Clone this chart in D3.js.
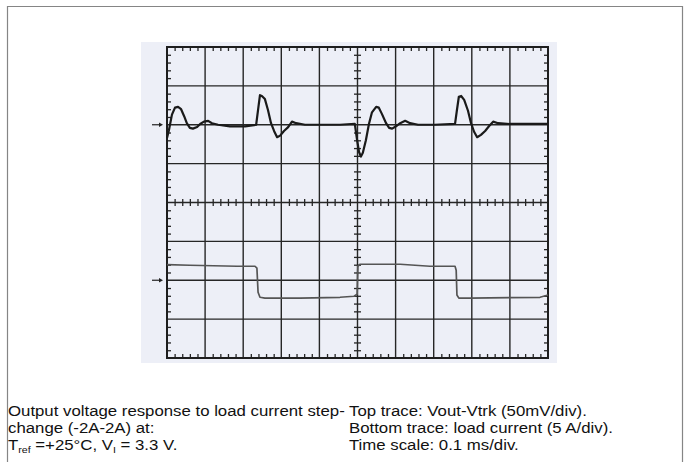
<!DOCTYPE html>
<html>
<head>
<meta charset="utf-8">
<style>
body { margin: 0; background: #fff; }
svg { display: block; }
.grid line { stroke: #262626; stroke-width: 1.4; }
.tk line { stroke: #262626; stroke-width: 1.3; }
.tk path { display: none; }
.cap { font-family: "Liberation Sans", Arial, sans-serif; font-size: 15px; fill: #111; }
</style>
<script src="https://d3js.org/d3.v7.min.js"></script>
</head>
<body>
<svg width="686" height="462"></svg>
<script>
// time in ms (0.1 ms/div, 10 div)
// top trace: Vout-Vtrk in mV relative to its marker (50 mV/div)
var topTime = [0, .005, .013, .021, .029, .037, .045, .052, .060, .068, .079, .087, .097, .108, .118, .134, .165, .205, .234,
  .239, .244, .249, .257, .265, .273, .281, .289, .297, .307, .318, .328, .339, .362, .402, .454, .493,
  .499, .504, .509, .514, .522, .530, .538, .549, .556, .564, .575, .583, .591, .601, .612, .625, .638, .659, .703, .756,
  .761, .766, .772, .780, .790, .798, .806, .814, .824, .835, .845, .856, .869, .900, .953, 1.0];
var topMv = [-17, -7, 13, 22, 23, 20, 11, 2, -4, -5, -3, 1, 4, 5, 2, 0, -2, -2, 0,
  19, 38, 37, 33, 19, 2, -8, -16, -14, -8, -3, 4, 2, 0, 0, 0, 1,
  -20, -35, -41, -36, -20, 1, 16, 23, 22, 14, 2, -4, -5, -2, 2, 5, 2, 0, 0, 1,
  19, 36, 37, 32, 18, 2, -9, -16, -13, -8, -2, 4, 2, 1, 1, 1];

// bottom trace: load current in A relative to its marker (5 A/div)
var botTime = [0, .06, .184, .231, .236, .239, .244, .257, .349, .454, .491, .499, .501, .507, .612, .69, .756, .759, .761, .766, .795, .979, 1.0];
var botAmp = [2.0, 1.93, 1.8, 1.8, 1.55, -1.54, -2.19, -2.3, -2.3, -2.19, -2.06, -1.8, 1.8, 2.06, 2.06, 1.8, 1.8, 1.3, -1.9, -2.3, -2.3, -2.19, -1.9];

var topOffset = 2;   // marker position in divisions
var botOffset = -2;
var mvPerDiv = 50, ampPerDiv = 5;

var captionLeft = ["Output voltage response to load current step-", "change (-2A-2A) at:"];
var captionRight = ["Top trace: Vout-Vtrk (50mV/div).", "Bottom trace: load current (5 A/div).", "Time scale: 0.1 ms/div."];

var svg = d3.select("svg");

// outer frame
svg.append("path")
  .attr("d", "M7.5,462 V6.5 H682.5 V462")
  .attr("fill", "none").attr("stroke", "#858585").attr("stroke-width", 1.2);

// scope background
svg.append("rect").attr("x", 141).attr("y", 42).attr("width", 416).attr("height", 321).attr("fill", "#edeff7");

var x = d3.scaleLinear().domain([0, 1]).range([167, 548]);
var y = d3.scaleLinear().domain([-4, 4]).range([358, 47]);

var majX = d3.range(0, 11).map(function(i) { return i / 10; });
var majY = d3.range(-4, 5);
var minX = d3.range(0, 51).map(function(i) { return i / 50; }).filter(function(d, i) { return i % 5 != 0; });
var minY = d3.range(0, 41).map(function(i) { return -4 + i / 5; }).filter(function(d, i) { return i % 5 != 0; });

var g = svg.append("g").attr("class", "grid");
g.selectAll(".v").data(majX.slice(1, -1)).enter().append("line")
  .attr("x1", function(d) { return x(d); }).attr("x2", function(d) { return x(d); })
  .attr("y1", y(-4)).attr("y2", y(4));
g.selectAll(".h").data(majY.slice(1, -1)).enter().append("line")
  .attr("y1", function(d) { return y(d); }).attr("y2", function(d) { return y(d); })
  .attr("x1", x(0)).attr("x2", x(1));

// minor ticks on border and center lines
function tk(axis, tr) {
  svg.append("g").attr("class", "tk").attr("transform", tr).call(axis.tickFormat("").tickSizeOuter(0));
}
tk(d3.axisBottom(x).tickValues(minX).tickSize(4), "translate(0," + y(4) + ")");
tk(d3.axisTop(x).tickValues(minX).tickSize(4), "translate(0," + y(-4) + ")");
tk(d3.axisRight(y).tickValues(minY).tickSize(4), "translate(" + x(0) + ",0)");
tk(d3.axisLeft(y).tickValues(minY).tickSize(4), "translate(" + x(1) + ",0)");
tk(d3.axisBottom(x).tickValues(minX).tickSize(3.5), "translate(0," + y(0) + ")");
tk(d3.axisTop(x).tickValues(minX).tickSize(3.5), "translate(0," + y(0) + ")");
tk(d3.axisRight(y).tickValues(minY).tickSize(3.5), "translate(" + x(0.5) + ",0)");
tk(d3.axisLeft(y).tickValues(minY).tickSize(3.5), "translate(" + x(0.5) + ",0)");

// screen border
svg.append("rect").attr("x", x(0)).attr("y", y(4)).attr("width", x(1) - x(0)).attr("height", y(-4) - y(4))
  .attr("fill", "none").attr("stroke", "#1e1e1e").attr("stroke-width", 2);

// traces
var topLine = d3.line()
  .x(function(d, i) { return x(topTime[i]); })
  .y(function(d) { return y(topOffset + d / mvPerDiv); });
svg.append("path").attr("d", topLine(topMv))
  .attr("fill", "none").attr("stroke", "#1a1a1a").attr("stroke-width", 2.2).attr("stroke-linejoin", "round");

var botLine = d3.line()
  .x(function(d, i) { return x(botTime[i]); })
  .y(function(d) { return y(botOffset + d / ampPerDiv); });
svg.append("path").attr("d", botLine(botAmp))
  .attr("fill", "none").attr("stroke", "#555").attr("stroke-width", 1.7).attr("stroke-linejoin", "round");

// ground markers
[topOffset, botOffset].forEach(function(o) {
  var yy = y(o);
  svg.append("line").attr("x1", 152).attr("x2", 161).attr("y1", yy).attr("y2", yy)
    .attr("stroke", "#222").attr("stroke-width", 1.2);
  svg.append("path").attr("d", "M163," + yy + " l-4,-2.3 v4.6 z").attr("fill", "#222");
});

// caption (the original lettering is a little wide, so stretch it)
var sx = 1.12;
var cap = svg.append("g").attr("transform", "scale(" + sx + ",1)");
var lineY = [416, 433, 450];
captionLeft.forEach(function(t, i) {
  cap.append("text").attr("class", "cap").attr("x", 8 / sx).attr("y", lineY[i]).text(t);
});
var t3 = cap.append("text").attr("class", "cap").attr("x", 8 / sx).attr("y", lineY[2]);
t3.append("tspan").text("T");
t3.append("tspan").attr("font-size", "9.5px").attr("dy", 3).text("ref");
t3.append("tspan").attr("dy", -3).text(" =+25°C, V");
t3.append("tspan").attr("font-size", "9.5px").attr("dy", 3).text("I");
t3.append("tspan").attr("dy", -3).text(" = 3.3 V.");
captionRight.forEach(function(t, i) {
  cap.append("text").attr("class", "cap").attr("x", 349 / sx).attr("y", lineY[i]).text(t);
});
</script>
</body>
</html>
